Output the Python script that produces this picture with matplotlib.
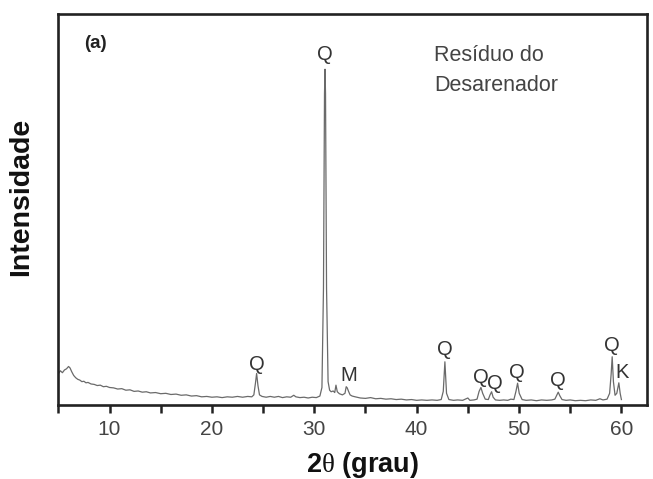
import matplotlib
matplotlib.use("Agg")
import matplotlib.pyplot as plt

plt.rcParams['font.family'] = ['Liberation Sans', 'DejaVu Sans']
plt.rcParams['mathtext.fontset'] = 'custom'
plt.rcParams['mathtext.rm'] = 'Liberation Serif'

# XRD trace: 2theta (deg) and relative intensity
two_theta = [5.0, 5.2, 5.4, 5.6, 5.8, 6.0, 6.15, 6.3, 6.5, 6.7, 6.9, 7.1, 7.3, 7.5, 7.7, 7.9,
             8.2, 8.5, 8.8, 9.1, 9.4, 9.7, 10.0, 10.4, 10.8, 11.2, 11.6, 12.0, 12.4, 12.8,
             13.2, 13.6, 14.0, 14.5, 15.0, 15.5, 16.0, 16.5, 17.0, 17.5, 18.0, 18.5, 19.0,
             19.5, 20.0, 20.5, 21.0, 21.5, 22.0, 22.5, 23.0, 23.5, 23.9, 24.1, 24.25, 24.37,
             24.5, 24.65, 24.9, 25.3, 25.7, 26.1, 26.5, 26.9, 27.3, 27.7, 28.0, 28.2, 28.6,
             29.0, 29.4, 29.8, 30.2, 30.55, 30.75, 30.9, 31.0, 31.05, 31.1, 31.2, 31.35,
             31.5, 31.65, 31.85, 32.0, 32.12, 32.25, 32.45, 32.75, 33.0, 33.12, 33.22, 33.35,
             33.5, 33.7, 34.0, 34.5, 35.0, 35.5, 36.0, 36.5, 37.0, 37.5, 38.0, 38.5, 39.0,
             39.5, 40.0, 40.5, 41.0, 41.5, 42.0, 42.4, 42.6, 42.76, 42.92, 43.15, 43.6, 44.0,
             44.5, 45.0, 45.2, 45.6, 45.9, 46.1, 46.28, 46.45, 46.7, 47.0, 47.17, 47.32,
             47.47, 47.7, 48.1, 48.5, 48.9, 49.2, 49.5, 49.7, 49.86, 50.02, 50.3, 50.7, 51.2,
             51.7, 52.2, 52.7, 53.2, 53.5, 53.7, 53.83, 53.98, 54.2, 54.6, 55.0, 55.5, 56.0,
             56.5, 57.0, 57.5, 57.9, 58.2, 58.6, 58.85, 59.0, 59.1, 59.22, 59.38, 59.55,
             59.75, 59.88, 60.0]
intensity = [8.0, 8.8, 8.3, 9.0, 9.3, 9.9, 9.5, 8.6, 7.6, 7.0, 6.6, 6.4, 6.0, 6.1, 5.7, 5.8,
             5.4, 5.3, 5.0, 5.1, 4.7, 4.8, 4.5, 4.4, 4.1, 4.2, 3.8, 3.9, 3.5, 3.6,
             3.3, 3.4, 3.1, 3.2, 2.9, 3.0, 2.7, 2.8, 2.5, 2.6, 2.3, 2.4, 2.1,
             2.2, 2.0, 2.1, 1.9, 2.1, 2.0, 2.2, 2.0, 2.2, 2.1, 2.6, 5.5, 8.1,
             5.0, 2.6, 2.2, 2.0, 2.2, 2.0, 2.2, 1.9, 2.1, 2.0, 2.5, 2.1, 1.9,
             2.0, 1.8, 2.0, 1.9, 2.3, 4.5, 30.0, 80.0, 86.3, 80.0, 30.0, 6.0,
             3.8, 3.4, 3.6, 3.2, 5.1, 3.4, 2.9, 2.6, 3.0, 4.7, 4.4, 3.5,
             2.6, 2.3, 2.1, 1.8, 1.7, 1.9, 1.6, 1.7, 1.5, 1.6, 1.4, 1.5, 1.3,
             1.4, 1.2, 1.3, 1.2, 1.3, 1.2, 1.4, 3.5, 11.1, 3.0, 1.4, 1.2, 1.3,
             1.2, 1.8, 1.2, 1.3, 1.5, 3.5, 4.5, 3.0, 1.5, 1.4, 2.6, 3.4,
             2.0, 1.3, 1.2, 1.3, 1.2, 1.5, 1.4, 3.5, 5.6, 3.0, 1.4, 1.2, 1.3,
             1.1, 1.3, 1.2, 1.3, 1.5, 2.6, 3.3, 2.4, 1.4, 1.2, 1.3, 1.1, 1.2,
             1.1, 1.3, 1.2, 1.6, 1.3, 1.5, 3.0, 8.0, 12.4, 6.0, 2.5, 3.0,
             5.7, 3.0, 1.4]

# phase labels: text, x (2theta), y (intensity)
label_text = ['Q', 'Q', 'M', 'Q', 'Q', 'Q', 'Q', 'Q', 'Q', 'K']
label_x = [31.05, 24.37, 33.4, 42.76, 46.25, 47.65, 49.82, 53.83, 59.04, 60.02]
label_y = [90.0, 10.5, 7.7, 14.3, 7.0, 5.4, 8.3, 6.2, 15.4, 8.4]

x_ticks = [10, 20, 30, 40, 50, 60]
x_minor = [5, 15, 25, 35, 45, 55]

fig = plt.figure(figsize=(6.53, 4.79), dpi=100)
ax = fig.add_axes([0.0893, 0.1545, 0.9015, 0.8163])

ax.plot(two_theta, intensity, color='#6a6a6a', lw=0.9)

for t, x, y in zip(label_text, label_x, label_y):
    ax.text(x, y, t, ha='center', va='center', fontsize=14.5, color='#333333')

ax.set_xlim(5, 62.5)
ax.set_ylim(0, 100.5)
ax.set_xticks(x_ticks)
ax.set_xticks(x_minor, minor=True)
ax.set_yticks([])
ax.tick_params(axis='x', which='both', direction='out', length=6, width=1.8,
               color='#222222', labelsize=15, labelcolor='#444444', pad=5)
ax.tick_params(axis='x', which='minor', labelbottom=False)
for s in ax.spines.values():
    s.set_linewidth(1.9)
    s.set_color('#222222')

ax.text(0.044, 0.925, '(a)', transform=ax.transAxes, fontsize=13.5,
        fontweight='bold', color='#222222', ha='left', va='center')
ax.text(0.639, 0.855, 'Resíduo do\nDesarenador', transform=ax.transAxes,
        fontsize=15.5, color='#444444', ha='left', va='center', linespacing=1.6)

fig.text(363 / 653, 1 - 465 / 479, r'2$\mathrm{\theta}$ (grau)', fontsize=19.5,
         fontweight='bold', ha='center', va='center', color='#111111')
fig.text(21 / 653, 1 - 197 / 479, 'Intensidade', fontsize=20.5, fontweight='bold',
         rotation=90, ha='center', va='center', color='#111111')

fig.savefig('out.png', dpi=100)
